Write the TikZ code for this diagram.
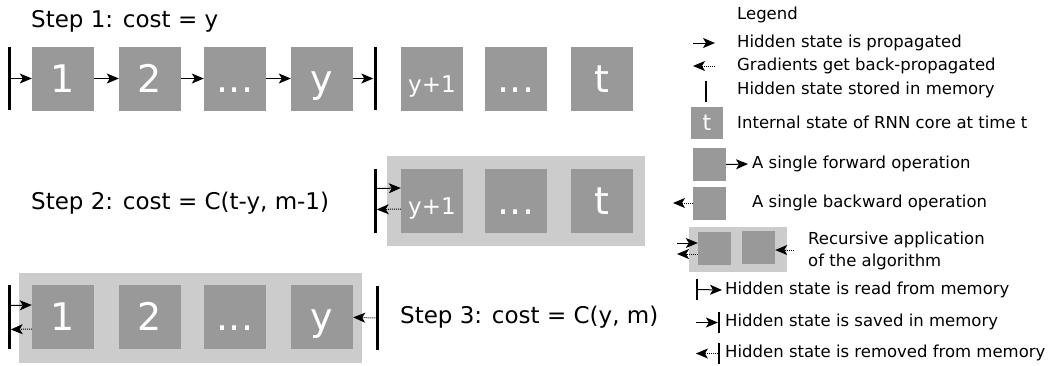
\documentclass[tikz,border=0pt]{standalone}
\usepackage{fontspec}
\setmainfont{DejaVu Sans}
\usetikzlibrary{arrows.meta}
\definecolor{cellgray}{HTML}{999999}
\definecolor{recgray}{HTML}{CCCCCC}

\begin{document}
\begin{tikzpicture}[>={Stealth[length=12pt,width=10pt,inset=3pt]}, x=1pt, y=-1pt]
  % definition of the basic styles.
  \tikzstyle{cell}=[fill=cellgray, minimum width=62pt, minimum height=64pt, inner sep=0pt,
    text=white, font=\fontsize{38}{38}\selectfont, text height=28pt, text depth=1pt]
  \tikzstyle{smallcell}=[cell, font=\fontsize{23}{23}\selectfont]
  \tikzstyle{legcell}=[fill=cellgray, minimum width=33pt, minimum height=33pt, inner sep=0pt,
    text=white, font=\fontsize{22}{22}\selectfont]
  \tikzstyle{recur}=[fill=recgray, inner sep=0pt]
  \tikzstyle{membar}=[fill=black, minimum width=3pt, minimum height=63pt, inner sep=0pt]
  \tikzstyle{legbar}=[fill=black, minimum width=1.8pt, minimum height=21pt, inner sep=0pt]
  \tikzstyle{fwd}=[->, line width=1pt]
  \tikzstyle{bwd}=[->, line width=1pt, densely dotted]
  \tikzstyle{steptext}=[anchor=west, inner sep=0pt, font=\fontsize{23}{23}\selectfont]
  \tikzstyle{legtext}=[anchor=west, inner sep=0pt, font=\fontsize{16.5}{16.5}\selectfont]

  % The page frame
  \useasboundingbox (0,0) rectangle (1051,365);

  % Step 1: forward pass over the first y steps
  \node[steptext] (s1) at (31,21) {Step 1: cost = y};
  \node[cell] (a1) at (63,78.5) {1};
  \node[cell] (a2) at (150,78.5) {2};
  \node[cell] (a3) at (235,78.5) {...};
  \node[cell] (a4) at (322,78.5) {y};
  \node[smallcell] (b1) at (432,78.5) {y+1};
  \node[cell] (b2) at (516,78.5) {...};
  \node[cell] (b3) at (602,78.5) {t};
  \node[membar] (m1) at (9,78.5) {};
  \node[membar] (m2) at (375,78.5) {};
  \foreach \a/\b in {m1/a1, a1/a2, a2/a3, a3/a4, a4/m2}
    \draw[fwd] (\a) -- (\b);

  % Step 2: recursion on the last t-y steps
  \node[steptext] (s2) at (31,203) {Step 2: cost = C(t-y, m-1)};
  \node[recur, minimum width=258pt, minimum height=90pt] (r2) at (516,201) {};
  \node[smallcell] (d1) at (432,200.5) {y+1};
  \node[cell] (d2) at (516,200.5) {...};
  \node[cell] (d3) at (602,200.5) {t};
  \node[membar, minimum height=64pt] (m3) at (375,201) {};
  \draw[fwd] ([yshift=12.5pt]m3.east) -- ([yshift=12.5pt]d1.west);
  \draw[bwd] ([yshift=-8.5pt]d1.west) -- ([yshift=-8.5pt]m3.east);

  % Step 3: recursion on the first y steps
  \node[steptext] (s3) at (400,317) {Step 3: cost = C(y, m)};
  \node[recur, minimum width=343pt, minimum height=90pt] (r3) at (190.5,318) {};
  \node[cell] (e1) at (63,316.5) {1};
  \node[cell] (e2) at (150,316.5) {2};
  \node[cell] (e3) at (235,316.5) {...};
  \node[cell] (e4) at (322,316.5) {y};
  \node[membar, minimum height=64pt] (m4) at (9,317) {};
  \node[membar, minimum height=64pt] (m5) at (377,318) {};
  \draw[fwd] ([yshift=11.5pt]m4.east) -- ([yshift=11.5pt]e1.west);
  \draw[bwd] ([yshift=-12.5pt]e1.west) -- ([yshift=-12.5pt]m4.east);
  \draw[bwd] (m5) -- (e4);

  % Legend
  \node[legtext] (lg0) at (737,15) {Legend};
  \node[legtext] (lg1) at (737,43) {Hidden state is propagated};
  \draw[fwd] ([xshift=-44pt]lg1.west) -- ([xshift=-22pt]lg1.west);
  \node[legtext] (lg2) at (737,66) {Gradients get back-propagated};
  \draw[bwd] ([xshift=-22pt]lg2.west) -- ([xshift=-44pt]lg2.west);
  \node[legtext] (lg3) at (737,90) {Hidden state stored in memory};
  \node[legbar] (lb3) at (706,91) {};
  \node[legtext] (lg4) at (737,122) {Internal state of RNN core at time t};
  \node[legcell, minimum width=32pt, minimum height=32pt] (lc4) at (707,123) {t};
  \node[legtext] (lg5) at (752,164) {A single forward operation};
  \node[legcell] (lc5) at (709.5,164.5) {};
  \draw[fwd] (lc5.east) -- ([xshift=-4pt]lg5.west);
  \node[legtext] (lg6) at (752,203) {A single backward operation};
  \node[legcell] (lc6) at (709.5,203) {};
  \coordinate (le6) at (673,203);
  \draw[bwd] (lc6.west) -- (le6);
  \node[legtext, align=left, font=\fontsize{16.5}{22}\selectfont] (lg7) at (808,251)
    {Recursive application\\of the algorithm};
  \node[recur, minimum width=98pt, minimum height=45pt] (lr7) at (738,249.5) {};
  \node[legcell] (lc7a) at (714.5,248) {};
  \node[legcell] (lc7b) at (758.5,247.5) {};
  \coordinate (la7) at (677,243);
  \coordinate (lb7) at (677,254);
  \coordinate (lr7e) at (794,250);
  \draw[fwd] (la7) -- (la7 -| lc7a.west);
  \draw[bwd] (lb7 -| lc7a.west) -- (lb7);
  \draw[bwd] (lr7e) -- (lr7e -| lc7b.east);
  \node[legtext] (lg8) at (725,290) {Hidden state is read from memory};
  \node[legbar] (lb8) at (697,289.5) {};
  \draw[fwd] (lb8) -- ([xshift=-3pt]lg8.west);
  \node[legtext] (lg9) at (725,322) {Hidden state is saved in memory};
  \node[legbar] (lb9) at (719,322.5) {};
  \draw[fwd] ([xshift=-22pt]lb9.west) -- (lb9);
  \node[legtext] (lg10) at (725,353) {Hidden state is removed from memory};
  \node[legbar] (lb10) at (719,353.5) {};
  \draw[bwd] (lb10) -- ([xshift=-22pt]lb10.west);
\end{tikzpicture}
\end{document}
